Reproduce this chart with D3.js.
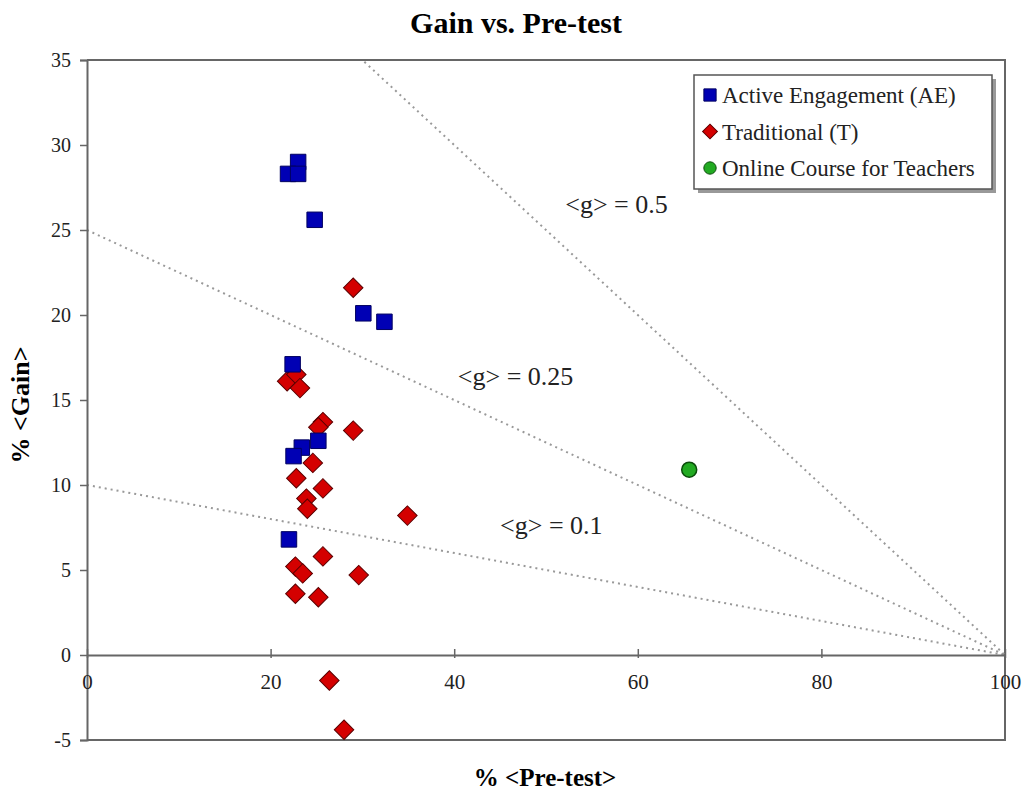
<!DOCTYPE html>
<html>

<head>
  <meta charset="utf-8">
  <title>Gain vs. Pre-test</title>
  <style>
    body {
      margin: 0;
      background: white;
      font-family: "Liberation Serif", "Times New Roman", serif;
    }
  </style>
</head>

<body>
  <svg id="chart"></svg>

  <script src="https://cdn.jsdelivr.net/npm/d3@7"></script>
  <script>
    // data: [pre-test %, gain %]
    var aePoints = [
      [23.0, 29.0], [21.9, 28.3], [23.0, 28.3], [24.8, 25.6], [30.1, 20.1],
      [32.4, 19.6], [22.4, 17.1], [25.2, 12.6], [23.4, 12.2], [22.5, 11.7],
      [22.0, 6.8]
    ];
    var tPoints = [
      [29.0, 21.6], [21.8, 16.1], [22.8, 16.5], [23.2, 15.7], [25.7, 13.7],
      [25.2, 13.4], [29.0, 13.2], [24.6, 11.3], [22.8, 10.4], [25.7, 9.8],
      [23.9, 9.2], [24.0, 8.6], [34.9, 8.2], [25.7, 5.8], [22.7, 5.2],
      [23.5, 4.8], [29.6, 4.7], [22.7, 3.6], [25.2, 3.4], [26.4, -1.5],
      [28.0, -4.4]
    ];
    var onlinePoints = [[65.6, 10.9]];
    // <g> lines: gain = g * (100 - pre)
    var gValues = [0.5, 0.25, 0.1];
    var gLabels = ["<g> = 0.5", "<g> = 0.25", "<g> = 0.1"];
    var gLabelPos = [[52.1, 26.0], [40.4, 15.9], [45.0, 7.1]]; // data coords of label start
    var xTicks = [0, 20, 40, 60, 80, 100];
    var yTicks = [-5, 0, 5, 10, 15, 20, 25, 30, 35];
    var legendNames = ["Active Engagement (AE)", "Traditional (T)", "Online Course for Teachers"];

    var width = 1030, height = 790;
    var padding = { top: 60, left: 87, right: 25, bottom: 50 };
    var svg = d3.select("#chart")
      .attr("width", width)
      .attr("height", height);

    var xScale = d3.scaleLinear()
      .domain([0, 100])
      .range([padding.left, width - padding.right]);
    var yScale = d3.scaleLinear()
      .domain([-5, 35])
      .range([height - padding.bottom, padding.top]);

    var axisColor = "#666";
    var fmt = d => String(d); // plain hyphen for -5

    // title
    svg.append("text")
      .attr("x", 516).attr("y", 33)
      .attr("text-anchor", "middle")
      .attr("font-size", "30px")
      .attr("font-weight", "bold")
      .text("Gain vs. Pre-test");

    // frame top / right / bottom
    svg.append("path")
      .attr("d", "M" + xScale(0) + "," + yScale(35) + "H" + xScale(100) + "V" + yScale(-5) + "H" + xScale(0))
      .attr("fill", "none")
      .attr("stroke", axisColor)
      .attr("stroke-width", 2);

    // g lines
    svg.append("defs").append("clipPath").attr("id", "plotClip")
      .append("rect")
      .attr("x", xScale(0)).attr("y", yScale(35))
      .attr("width", xScale(100) - xScale(0))
      .attr("height", yScale(-5) - yScale(35));
    svg.append("g").attr("clip-path", "url(#plotClip)")
      .selectAll("line")
      .data(gValues)
      .join("line")
      .attr("x1", xScale(0))
      .attr("y1", d => yScale(d * 100))
      .attr("x2", xScale(100))
      .attr("y2", yScale(0))
      .attr("stroke", "#999")
      .attr("stroke-width", 2)
      .attr("stroke-dasharray", "2,4");

    svg.append("g")
      .selectAll("text")
      .data(gLabels)
      .join("text")
      .attr("x", (d, i) => xScale(gLabelPos[i][0]))
      .attr("y", (d, i) => yScale(gLabelPos[i][1]))
      .attr("font-size", "26px")
      .attr("fill", "#222")
      .text(d => d);

    // y axis
    var yAxis = d3.axisLeft(yScale).tickValues(yTicks).tickFormat(fmt).tickSize(7).tickPadding(9);
    var yG = svg.append("g")
      .attr("transform", "translate(" + xScale(0) + ",0)")
      .call(yAxis);
    yG.selectAll("text")
      .attr("font-family", "'Liberation Serif', serif")
      .attr("font-size", "20px")
      .attr("fill", "#222");

    // x axis on zero line
    var xAxis = d3.axisBottom(xScale).tickValues(xTicks).tickFormat(fmt).tickSize(0).tickPadding(19);
    var xG = svg.append("g")
      .attr("transform", "translate(0," + yScale(0) + ")")
      .call(xAxis);
    xG.selectAll(".tick line")
      .attr("y1", -6).attr("y2", 3);
    xG.selectAll("text")
      .attr("font-family", "'Liberation Serif', serif")
      .attr("font-size", "21px")
      .attr("fill", "#222");

    [yG, xG].forEach(function (g) {
      g.select(".domain").attr("stroke", axisColor).attr("stroke-width", 2);
      g.selectAll(".tick line").attr("stroke", axisColor).attr("stroke-width", 1.5);
    });

    // axis titles
    svg.append("text")
      .attr("x", 545).attr("y", 786)
      .attr("text-anchor", "middle")
      .attr("font-size", "25px")
      .attr("font-weight", "bold")
      .text("% <Pre-test>");
    svg.append("text")
      .attr("transform", "translate(29,405) rotate(-90)")
      .attr("text-anchor", "middle")
      .attr("font-size", "26px")
      .attr("font-weight", "bold")
      .text("% <Gain>");

    // markers
    var squareSym = d3.symbol().type(d3.symbolSquare).size(240);
    var diamondSym = d3.symbol().type(d3.symbolSquare).size(190);

    svg.append("g")
      .selectAll("path")
      .data(tPoints)
      .join("path")
      .attr("d", diamondSym)
      .attr("transform", d => "translate(" + xScale(d[0]) + "," + yScale(d[1]) + ") rotate(45)")
      .attr("fill", "#d40000")
      .attr("stroke", "#5a0000")
      .attr("stroke-width", 1);

    svg.append("g")
      .selectAll("path")
      .data(aePoints)
      .join("path")
      .attr("d", squareSym)
      .attr("transform", d => "translate(" + xScale(d[0]) + "," + yScale(d[1]) + ")")
      .attr("fill", "#0000b4")
      .attr("stroke", "#000060")
      .attr("stroke-width", 1);

    svg.append("g")
      .selectAll("circle")
      .data(onlinePoints)
      .join("circle")
      .attr("cx", d => xScale(d[0]))
      .attr("cy", d => yScale(d[1]))
      .attr("r", 7.5)
      .attr("fill", "#22aa22")
      .attr("stroke", "#0b4d0b")
      .attr("stroke-width", 1.5);

    // legend
    var legend = svg.append("g").attr("transform", "translate(694,75)");
    legend.append("rect")
      .attr("x", 4).attr("y", 4).attr("width", 298).attr("height", 114)
      .attr("fill", "#999");
    legend.append("rect")
      .attr("width", 298).attr("height", 114)
      .attr("fill", "white")
      .attr("stroke", "#555")
      .attr("stroke-width", 1.5);
    var rows = legend.selectAll("g.row")
      .data(legendNames)
      .join("g")
      .attr("class", "row")
      .attr("transform", (d, i) => "translate(16," + (20 + i * 36.5) + ")");
    rows.append("path")
      .attr("d", (d, i) => i == 0 ? d3.symbol().type(d3.symbolSquare).size(150)() :
        i == 1 ? d3.symbol().type(d3.symbolSquare).size(110)() : d3.symbol().type(d3.symbolCircle).size(120)())
      .attr("transform", (d, i) => i == 1 ? "rotate(45)" : null)
      .attr("fill", (d, i) => ["#0000b4", "#d40000", "#22aa22"][i])
      .attr("stroke", (d, i) => ["#000060", "#5a0000", "#0b4d0b"][i]);
    rows.append("text")
      .attr("x", 12).attr("y", 8)
      .attr("font-size", "23px")
      .attr("fill", "#222")
      .text(d => d);
  </script>
</body>

</html>
